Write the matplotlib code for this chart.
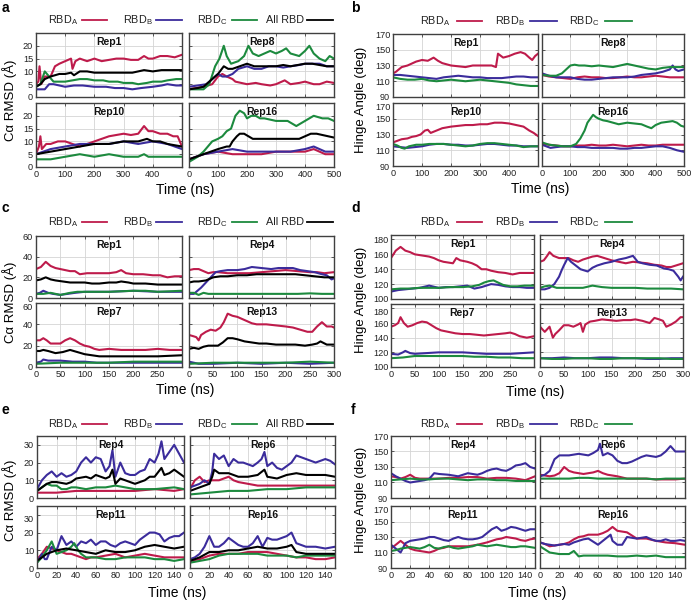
import matplotlib
matplotlib.use("Agg")
import matplotlib.pyplot as plt
from matplotlib.lines import Line2D

plt.rcParams['font.family'] = ['Liberation Sans', 'DejaVu Sans']
plt.rcParams['mathtext.default'] = 'regular'

W, H = 691, 601

RED = '#BE1B4B'
BLUE = '#3B2C9C'
GREEN = '#1C8A3E'
BLACK = '#000000'

# ---------------- panel a : C-alpha RMSD, 500 ns ----------------
a1_A = [(0,5),(8,6),(12,12),(18,5),(30,8),(50,8),(65,12),(80,13),(100,14),(120,15),(125,11),(135,14),(150,15),(175,14),(200,15),(225,14),(250,14.5),(275,15),(300,15),(325,14.5),(350,14.5),(370,16),(385,15),(400,15),(425,16),(450,16),(475,15.5),(500,16.5)]
a1_B = [(0,3),(15,3),(30,3),(45,5),(60,5),(80,4.5),(100,4),(130,4.5),(160,4.5),(200,4),(240,4),(270,3.5),(300,3.5),(330,3),(360,3.5),(400,4),(430,4.5),(450,5),(480,4.5),(500,4.5)]
a1_C = [(0,4),(15,5),(30,10),(45,8),(60,6),(80,6),(100,6),(125,6.5),(150,7),(175,7),(200,6.5),(230,6.5),(250,6),(280,6),(300,5.5),(330,5.5),(350,5),(380,5.5),(400,6),(430,6),(450,6.5),(480,7),(500,7)]
a1_All = [(0,4),(15,5),(30,7),(50,8),(80,9),(100,9),(120,9.5),(130,8.5),(150,10),(175,10),(200,9.5),(250,9.5),(300,9.5),(330,9.5),(350,10),(370,10.5),(400,10),(430,10.5),(460,10.5),(500,10.5)]

a8_A = [(0,3),(25,3.5),(50,4),(80,5),(100,8),(115,9),(130,8),(150,7),(160,6),(180,5.5),(200,5),(230,5.5),(250,5),(280,4.5),(300,5),(330,6.5),(350,5),(380,5.5),(400,6),(430,5),(450,5),(475,6),(500,5.5)]
a8_B = [(0,4),(30,4.5),(60,5),(80,7),(100,9),(115,8),(130,8),(150,9),(170,11),(200,12),(225,11),(250,11),(275,12),(300,12),(325,11.5),(350,12),(380,12.5),(400,13),(425,13),(450,13),(475,12),(500,12)]
a8_C = [(0,3),(25,3),(50,3),(70,5),(90,12),(105,15),(120,20),(130,16),(145,13),(170,14),(190,16),(205,20),(220,17),(240,16),(260,17),(280,18),(300,17),(320,18),(335,19),(350,17),(380,16),(400,18),(415,20),(430,17),(450,15),(470,14),(485,16),(500,15)]
a8_All = [(0,3),(30,3.5),(50,4),(80,7),(100,9),(120,12),(135,11),(150,11),(175,12),(200,13),(225,12),(250,12),(275,12),(300,12),(325,12.5),(350,12),(375,12.5),(400,13),(425,13),(450,12.5),(475,12),(500,12)]

a10_A = [(0,5),(10,8),(15,12),(20,7),(35,9),(50,9),(75,10),(100,10),(125,9),(150,8),(175,9),(200,10),(225,11),(250,12),(275,12.5),(300,13),(325,12.5),(350,13),(370,16),(385,14),(400,14),(425,13),(450,13),(470,12),(485,12),(500,8)]
a10_B = [(0,5),(25,6),(50,7),(75,7.5),(100,8),(125,8.5),(150,9),(175,9),(200,9),(225,9),(250,9),(275,9.5),(300,10),(325,9.5),(350,9),(375,9.5),(400,10),(425,9.5),(450,9),(475,8),(500,7)]
a10_C = [(0,3),(25,3),(50,3),(75,3.5),(100,4),(125,4.5),(150,5),(175,4.5),(200,4),(225,4.5),(250,5),(275,4.5),(300,4),(325,4),(350,4),(370,5),(385,4),(400,4),(425,4),(450,4),(475,4),(500,4)]
a10_All = [(0,5),(25,5.5),(50,6),(75,6.5),(100,7),(125,7.5),(150,8),(175,8.5),(200,9),(225,9),(250,9),(275,9.5),(300,10),(325,10),(350,10),(380,11),(400,10),(425,10),(450,9),(475,8.5),(500,8)]

a16_A = [(0,3),(25,4),(50,5),(75,5.5),(100,6),(125,5.5),(150,5),(175,5),(200,5),(225,5),(250,5),(275,5.5),(300,6),(325,6),(350,6),(375,6),(400,6),(430,7),(450,6),(470,5),(500,5)]
a16_B = [(0,3),(25,4),(50,5),(75,5.5),(100,6),(125,6.5),(150,7),(175,6.5),(200,6),(225,6),(250,6),(275,6),(300,6),(325,6),(350,6),(375,6.5),(400,7),(430,8),(450,7),(470,6),(500,6)]
a16_C = [(0,2),(15,3),(30,4),(50,6),(65,8),(80,10),(100,11),(115,12),(130,14),(145,15),(160,20),(175,22),(190,21),(200,19),(215,20),(230,20),(245,19),(260,19),(280,18.5),(300,18),(320,18),(340,18),(355,17),(370,16),(385,17),(400,18),(415,19),(430,20),(445,19.5),(460,19),(480,19),(500,18)]
a16_All = [(0,3),(25,4),(50,5),(75,6),(100,7),(130,8),(140,8),(150,10),(165,12),(175,13),(190,13),(205,12),(220,11),(240,11),(260,11),(280,11),(300,11),(325,11),(350,11),(380,11),(400,12),(420,13),(440,13),(460,12.5),(480,12),(500,11.5)]

# ---------------- panel b : hinge angle, 500 ns ----------------
b1_A = [(0,120),(10,122),(30,128),(50,130),(80,135),(100,137),(120,136),(140,140),(155,136),(170,133),(200,130),(225,129),(250,128),(275,130),(300,130),(320,130),(340,130),(355,128),(362,145),(380,140),(400,142),(420,145),(440,147),(455,145),(470,140),(480,137),(490,142),(500,145)]
b1_B = [(0,118),(25,118),(50,117),(75,116),(100,115),(125,114),(150,113),(175,115),(200,116),(225,117),(250,116),(275,115),(300,115),(325,114),(350,114),(375,114),(400,115),(425,116),(450,116),(475,115),(500,115)]
b1_C = [(0,115),(25,113),(50,112),(75,112),(100,113),(125,111),(150,110),(175,111),(200,112),(225,111),(250,110),(275,111),(300,112),(325,111),(350,110),(375,109),(400,108),(425,106),(450,105),(475,104),(500,104)]

b8_A = [(0,118),(25,116),(50,115),(75,114),(100,113),(125,115),(150,116),(175,115),(200,115),(225,114),(250,114),(275,115),(300,116),(325,115),(350,115),(375,116),(400,117),(425,116),(450,115),(475,115),(500,115)]
b8_B = [(0,120),(25,117),(50,115),(75,115),(100,115),(125,113),(150,112),(175,112),(200,113),(225,114),(250,115),(275,115),(300,115),(325,116),(350,118),(375,119),(400,120),(425,122),(450,125),(460,130),(470,125),(480,123),(500,125)]
b8_C = [(0,118),(25,117),(50,117),(70,120),(85,125),(100,130),(115,131),(130,130),(150,130),(175,129),(200,130),(225,129),(250,128),(275,130),(300,132),(325,130),(350,128),(375,126),(400,125),(425,127),(450,128),(475,128),(500,128)]

b10_A = [(0,120),(15,122),(30,124),(50,125),(65,127),(80,128),(95,130),(110,135),(120,136),(130,132),(150,135),(170,138),(185,139),(200,140),(225,141),(250,142),(275,142),(300,143),(325,143),(350,145),(375,145),(400,144),(425,142),(450,140),(470,135),(485,132),(500,128)]
b10_B = [(0,115),(25,114),(50,113),(75,114),(100,115),(125,117),(150,118),(175,118),(200,117),(225,117),(250,116),(275,116),(300,117),(325,118),(350,118),(375,117),(400,116),(425,116),(450,115),(475,115),(500,115)]
b10_C = [(0,118),(15,116),(30,113),(40,112),(55,115),(80,117),(100,117),(125,118),(150,118),(175,118),(200,117),(225,116),(250,115),(275,116),(300,118),(325,119),(350,119),(375,118),(400,117),(425,116),(450,114),(475,115),(500,115)]

b16_A = [(0,118),(25,117),(50,116),(75,115),(100,115),(125,116),(150,116),(175,117),(200,116),(225,116),(250,117),(275,116),(300,115),(325,116),(350,117),(375,116),(400,116),(425,117),(450,117),(475,117),(500,117)]
b16_B = [(0,117),(15,115),(30,113),(50,114),(75,115),(100,115),(125,114),(150,114),(175,113),(200,113),(225,113),(250,113),(275,112),(300,112),(325,113),(350,113),(375,114),(400,115),(425,115),(450,113),(475,110),(500,108)]
b16_C = [(0,120),(25,117),(50,116),(75,115),(100,115),(120,118),(135,125),(150,135),(160,145),(170,150),(180,155),(190,152),(200,150),(215,148),(230,147),(250,145),(270,143),(285,144),(300,145),(325,144),(350,143),(370,140),(385,138),(400,142),(420,145),(440,146),(460,147),(475,145),(490,141),(500,140)]

# ---------------- panel c : C-alpha RMSD, 300 ns ----------------
c1_A = [(0,28),(10,30),(20,35),(30,31),(40,29),(50,28),(60,27),(70,26),(80,26),(90,23),(105,24),(120,24),(135,24),(150,24),(165,25),(175,27),(185,24),(200,23),(220,23),(240,22),(255,22),(270,20),(285,21),(300,21)]
c1_B = [(0,4),(8,5),(15,7),(25,5),(35,4),(50,3),(65,4),(80,5),(100,6),(125,6),(150,6),(175,6.5),(200,7),(225,6.5),(250,6),(275,6),(300,6)]
c1_C = [(0,4),(15,4),(30,5),(40,4),(50,3),(60,4),(70,5),(85,6),(100,6),(125,6),(150,6),(175,6.5),(200,7),(225,7),(250,6),(275,6.5),(300,7)]
c1_All = [(0,17),(10,18),(20,20),(30,18),(40,17),(55,16),(70,15),(85,15),(100,15),(115,14),(130,14),(150,15),(165,15),(175,16),(190,15),(200,14),(225,14),(250,13),(275,13),(300,13)]

c4_A = [(0,27),(10,28),(20,28),(30,26),(40,24),(50,25),(60,25),(80,24),(100,24),(125,24),(150,25),(175,26),(200,27),(225,26),(250,25),(265,25),(280,24),(300,25)]
c4_B = [(0,4),(10,4),(15,6),(25,10),(35,15),(45,20),(55,25),(65,26),(80,27),(100,27),(115,28),(130,30),(150,29),(170,28),(185,29),(200,29),(215,29),(230,27),(245,26),(260,25),(275,23),(285,22),(295,18),(300,19)]
c4_C = [(0,5),(10,5),(20,3),(30,5),(40,4),(50,4),(75,4),(100,4),(125,4),(150,4),(175,4),(200,4),(225,4),(250,4.5),(275,4),(300,4)]
c4_All = [(0,15),(10,16),(20,16),(35,17),(45,19),(50,20),(65,21),(80,21),(100,22),(120,22),(140,23),(160,23),(180,23),(200,23),(220,23),(240,22),(260,21),(280,20),(300,20)]

c7_A = [(0,25),(8,25),(15,27),(22,25),(30,22),(40,22),(50,22),(60,25),(70,27),(80,25),(90,22),(100,20),(110,19),(120,17),(130,16),(150,17),(175,16),(200,16),(225,16),(250,17),(275,16),(300,16)]
c7_B = [(0,4),(10,5),(15,7),(25,6),(50,6),(75,5),(100,5),(125,4),(150,4),(175,4),(200,4),(225,4),(250,4),(275,4),(300,4)]
c7_C = [(0,3),(25,3.5),(50,4),(75,4),(100,4),(125,4),(150,4),(175,4.5),(200,5),(225,5),(250,5),(275,5),(300,5)]
c7_All = [(0,15),(8,15),(15,16),(25,15),(40,13),(55,14),(70,16),(85,14),(100,12),(115,11),(130,10),(150,10),(175,10),(200,10),(225,10),(250,10),(275,10.5),(300,11)]

c13_A = [(0,30),(8,29),(15,28),(20,25),(25,30),(35,33),(45,35),(55,34),(65,37),(72,42),(80,50),(90,48),(100,47),(110,45),(120,43),(130,41),(140,40),(160,40),(180,39),(200,38),(215,37),(230,35),(245,33),(255,33),(265,38),(275,42),(285,38),(295,38),(300,37)]
c13_B = [(0,5),(10,4),(20,3),(35,3),(50,3),(75,3.5),(100,4),(125,3.5),(150,3),(175,3.5),(200,4),(225,3.5),(250,3),(275,3.5),(300,4)]
c13_C = [(0,3),(25,3.5),(50,4),(75,4),(100,4),(125,4),(150,4),(175,4),(200,4),(225,4.5),(250,5),(275,4.5),(300,4)]
c13_All = [(0,17),(10,18),(20,17),(30,19),(40,20),(50,20),(60,20),(70,23),(80,27),(90,27),(100,26),(115,24),(130,23),(145,22),(160,22),(180,21),(200,21),(220,21),(240,20),(255,21),(265,22),(272,24),(285,21),(300,21)]

# ---------------- panel d : hinge angle, 300 ns ----------------
d1_A = [(0,155),(5,160),(10,165),(20,170),(30,165),(40,163),(50,160),(60,159),(70,158),(80,157),(90,155),(100,152),(110,150),(120,149),(130,148),(137,155),(145,152),(160,150),(170,148),(180,145),(190,140),(200,140),(210,138),(225,136),(240,135),(255,133),(270,135),(285,135),(300,135)]
d1_B = [(0,110),(15,112),(30,113),(45,114),(60,115),(80,118),(100,115),(115,116),(130,116),(145,117),(160,118),(175,114),(190,116),(200,118),(210,120),(225,119),(240,117),(255,116),(270,116),(285,115),(300,115)]
d1_C = [(0,113),(20,114),(40,114),(60,115),(80,115),(100,115),(125,116),(150,116),(170,117),(185,119),(195,122),(205,124),(215,125),(225,122),(235,119),(250,117),(265,117),(280,118),(300,118)]

d4_A = [(0,150),(8,152),(15,158),(20,163),(28,158),(40,155),(50,155),(60,155),(70,152),(80,150),(90,153),(100,155),(110,157),(120,158),(135,155),(150,152),(165,150),(180,148),(195,150),(210,149),(225,148),(240,146),(255,145),(265,143),(275,143),(285,145),(300,148)]
d4_B = [(0,113),(10,113),(20,115),(30,120),(40,130),(45,138),(50,145),(58,155),(65,150),(75,145),(85,140),(95,138),(100,137),(110,142),(120,145),(135,148),(150,150),(165,153),(180,155),(195,158),(205,150),(215,148),(230,146),(245,145),(260,141),(270,140),(280,138),(290,130),(295,125),(300,130)]
d4_C = [(0,115),(10,117),(20,118),(35,115),(50,115),(70,115),(90,115),(110,118),(130,116),(150,115),(175,115),(200,115),(225,114),(250,114),(275,114),(300,113)]

d7_A = [(0,155),(8,157),(15,160),(20,168),(27,160),(35,155),(45,157),(55,160),(65,162),(75,161),(85,157),(95,153),(105,150),(120,148),(135,146),(150,145),(165,145),(180,144),(195,143),(210,144),(225,145),(240,146),(250,147),(260,145),(270,142),(285,140),(300,142)]
d7_B = [(0,118),(15,117),(25,120),(30,122),(40,119),(50,118),(75,119),(100,120),(125,120),(150,120),(175,119),(200,118),(225,118),(250,118),(275,119),(300,120)]
d7_C = [(0,112),(25,113),(50,115),(75,115),(100,115),(125,115),(150,115),(175,114),(200,114),(225,113),(250,113),(275,112),(300,112)]

d13_A = [(0,155),(10,148),(20,155),(27,140),(32,145),(40,150),(50,157),(60,157),(70,155),(80,158),(85,160),(90,148),(95,158),(105,162),(115,163),(130,165),(145,164),(160,163),(175,164),(190,164),(200,165),(215,163),(230,160),(240,167),(250,165),(258,163),(265,155),(275,158),(285,162),(295,168),(300,168)]
d13_B = [(0,112),(25,112),(50,113),(75,112),(100,112),(125,113),(150,113),(175,112),(200,112),(225,111),(250,111),(275,112),(300,112)]
d13_C = [(0,112),(25,111),(50,111),(75,112),(100,112),(125,111),(150,111),(175,112),(200,112),(225,112),(250,112),(275,111),(300,111)]

# ---------------- panel e : C-alpha RMSD, 150 ns ----------------
e4_A = [(0,3),(10,3),(20,3),(30,3.5),(40,4),(50,4),(60,4),(70,4),(80,4),(90,4),(100,4),(110,4.5),(120,5),(130,4.5),(140,4),(150,5)]
e4_B = [(0,5),(5,10),(10,13),(15,15),(20,12),(25,14),(30,12),(35,13),(40,15),(45,20),(50,23),(55,20),(60,23),(65,22),(70,15),(74,18),(77,27),(80,12),(85,20),(90,14),(95,13),(100,13),(105,15),(110,16),(115,22),(120,20),(124,25),(127,32),(130,22),(135,26),(140,30),(145,25),(150,20)]
e4_C = [(0,4),(5,6),(10,8),(15,7),(20,7),(25,5),(30,5),(35,6),(40,6),(50,5),(60,6),(70,6),(80,7),(90,6),(100,5),(110,5),(120,5),(130,5.5),(140,6),(150,5)]
e4_All = [(0,4),(5,6),(10,8),(15,9),(20,9),(30,8),(35,9),(40,11),(50,12),(55,11),(60,13),(65,12),(70,11),(74,12),(77,16),(80,8),(85,11),(90,10),(100,8),(110,10),(115,12),(120,12),(127,17),(130,13),(135,14),(140,16),(145,14),(150,12)]

e6_A = [(0,5),(5,10),(10,12),(15,9),(20,10),(25,10),(30,10),(35,11),(40,12),(45,10),(50,9),(60,8),(70,7),(80,7),(90,7),(100,7),(110,7),(120,7),(130,7),(140,7),(150,7)]
e6_B = [(0,6),(5,7),(10,8),(15,10),(20,8),(23,15),(25,25),(30,22),(35,24),(40,18),(45,22),(50,20),(55,20),(60,19),(65,18),(70,20),(74,22),(77,26),(80,18),(85,20),(90,17),(95,16),(100,18),(105,20),(110,24),(115,23),(120,22),(125,21),(130,20),(135,21),(140,22),(145,21),(150,19)]
e6_C = [(0,2),(10,2.5),(20,3),(30,3.5),(40,4),(50,4),(60,4),(70,4.5),(80,5),(90,5),(100,5),(110,5.5),(120,6),(130,6),(140,6),(150,6)]
e6_All = [(0,4),(10,6),(20,8),(23,12),(25,16),(30,14),(40,14),(50,12),(60,12),(70,13),(77,16),(80,12),(90,11),(100,13),(110,14),(120,13),(130,13),(140,13),(150,12)]

e11_A = [(0,5),(5,8),(10,12),(15,11),(20,10),(25,9),(30,8),(35,8),(40,7),(45,6),(50,5),(55,6),(60,6),(70,7),(80,8),(85,7),(90,6),(100,7),(110,8),(120,7),(130,6),(140,6),(150,6)]
e11_B = [(0,3),(3,6),(5,8),(8,5),(10,5),(15,12),(20,10),(25,18),(30,13),(35,15),(40,12),(45,15),(50,14),(55,16),(60,13),(65,15),(70,15),(75,13),(80,12),(85,14),(90,15),(95,14),(100,13),(105,16),(110,18),(115,20),(120,20),(125,19),(130,15),(135,17),(140,18),(145,18),(150,20)]
e11_C = [(0,3),(5,6),(10,10),(15,15),(20,8),(25,9),(30,10),(35,12),(38,14),(42,10),(45,8),(50,6),(60,6),(70,5),(80,5),(90,6),(100,6),(110,6),(120,5),(130,5),(140,4),(150,5)]
e11_All = [(0,4),(5,6),(10,8),(15,9),(20,10),(30,11),(40,10),(50,9),(60,8),(70,10),(80,9),(90,9),(100,10),(110,12),(120,13),(130,12),(140,11),(150,12)]

e16_A = [(0,4),(10,5),(20,7),(30,8),(40,8),(50,8),(60,9),(70,9),(80,9),(90,8),(100,7),(110,6),(120,6),(130,5),(140,5),(150,6)]
e16_B = [(0,5),(5,6),(10,8),(15,12),(20,18),(25,12),(30,12),(35,14),(40,17),(45,15),(50,13),(55,12),(60,12),(65,14),(70,18),(75,12),(80,17),(85,16),(90,16),(95,17),(100,18),(105,20),(110,14),(115,13),(120,12),(130,12),(140,11),(150,12)]
e16_C = [(0,3),(10,4),(20,5),(30,7),(40,8),(50,8),(60,8),(70,8),(80,7),(90,7),(100,7),(110,6),(120,7),(130,7),(140,7),(150,7)]
e16_All = [(0,4),(10,6),(20,9),(30,9),(40,10),(50,10),(60,11),(70,12),(80,11),(90,11),(100,12),(105,13),(110,9),(120,8),(130,8),(140,8),(150,8)]

# ---------------- panel f : hinge angle, 150 ns ----------------
f4_A = [(0,118),(5,117),(10,115),(15,117),(20,120),(25,116),(30,115),(40,115),(50,115),(60,116),(70,116),(80,117),(90,117),(100,115),(110,116),(120,116),(130,115),(140,113),(150,118)]
f4_B = [(0,122),(5,118),(10,115),(15,112),(20,110),(25,111),(30,112),(35,113),(40,115),(45,122),(50,121),(60,120),(70,118),(80,122),(90,120),(95,122),(100,125),(105,127),(110,128),(115,126),(120,125),(125,128),(130,132),(135,133),(140,135),(145,130),(150,128)]
f4_C = [(0,113),(10,114),(20,115),(30,114),(40,114),(50,115),(60,115),(70,114),(80,113),(90,114),(100,114),(110,113),(120,113),(130,112),(140,112),(150,112)]

f6_A = [(0,120),(5,119),(10,118),(15,119),(20,122),(25,130),(30,125),(35,123),(40,122),(45,121),(50,122),(55,123),(60,125),(65,122),(70,120),(75,119),(80,118),(90,115),(100,115),(110,115),(120,114),(130,114),(140,114),(150,115)]
f6_B = [(0,118),(5,120),(10,125),(15,140),(20,145),(25,145),(30,145),(35,146),(40,147),(45,146),(50,145),(55,148),(60,152),(62,160),(65,145),(70,148),(75,145),(80,138),(85,135),(90,135),(95,137),(100,140),(105,143),(110,145),(115,144),(120,143),(125,145),(130,150),(135,157),(140,150),(145,150),(150,150)]
f6_C = [(0,115),(10,115),(20,115),(30,115),(40,116),(50,116),(60,115),(70,115),(80,115),(90,115),(100,115),(110,115),(120,114),(130,115),(140,115),(150,115)]

f11_A = [(0,115),(5,120),(10,125),(15,120),(20,115),(25,113),(30,112),(35,111),(40,110),(45,112),(50,115),(55,116),(60,118),(70,118),(80,118),(90,120),(100,123),(105,125),(110,127),(115,128),(120,130),(125,129),(130,128),(135,126),(140,125),(145,127),(150,128)]
f11_B = [(0,120),(5,115),(10,110),(15,122),(20,125),(25,126),(30,127),(35,128),(40,130),(45,130),(50,128),(55,126),(60,125),(65,128),(70,130),(75,128),(80,127),(85,127),(90,128),(95,130),(100,135),(105,140),(110,143),(115,138),(120,140),(125,143),(130,142),(135,140),(140,138),(145,140),(150,140)]
f11_C = [(0,112),(5,113),(10,115),(15,116),(20,117),(25,116),(30,115),(35,117),(40,120),(45,116),(50,115),(55,117),(60,118),(65,116),(70,115),(75,116),(80,117),(85,118),(90,120),(95,119),(100,118),(105,119),(110,120),(115,119),(120,118),(125,117),(130,117),(135,118),(140,118),(145,117),(150,116)]

f16_A = [(0,123),(5,121),(10,118),(15,119),(20,120),(25,121),(30,123),(35,127),(40,130),(45,131),(50,133),(55,133),(60,133),(65,135),(70,138),(75,143),(80,138),(85,137),(90,136),(95,132),(100,128),(105,128),(110,128),(120,125),(130,123),(140,122),(150,120)]
f16_B = [(0,123),(5,121),(10,120),(15,119),(20,120),(25,121),(30,120),(35,123),(40,125),(45,127),(50,128),(55,124),(60,120),(65,125),(70,130),(73,133),(75,125),(80,120),(85,120),(90,130),(95,129),(100,128),(105,129),(110,130),(115,127),(120,125),(125,125),(130,127),(135,125),(140,125),(145,126),(150,125)]
f16_C = [(0,118),(5,114),(10,110),(15,109),(20,108),(25,108),(30,108),(35,112),(40,105),(45,106),(50,106),(60,106),(70,106),(80,105),(90,105),(100,106),(110,105),(120,106),(130,104),(140,104),(150,104)]

# ---------------- layout ----------------
fig = plt.figure(figsize=(W / 100, H / 100), dpi=100)

TICK_FONT = ['Liberation Sans Narrow', 'Liberation Sans', 'DejaVu Sans']


def add_ax(l, t, r, b):
    return fig.add_axes([l / W, 1 - b / H, (r - l) / W, (b - t) / H])


def draw(ax, series, title, xlim, xticks, ylim, yticks, row, show_x, show_y):
    colors = [RED, BLUE, GREEN, BLACK]
    for s, c in zip(series, colors):
        ts = [p[0] for p in s]
        vs = [p[1] for p in s]
        ax.plot(ts, vs, color=c, lw=1.5, solid_joinstyle='round')
    ax.set_xlim(*xlim)
    ax.set_ylim(*ylim)
    ax.set_xticks(xticks)
    ax.set_yticks(yticks)
    ax.grid(True, color='#d4d4d4', lw=0.6)
    ax.set_axisbelow(True)
    for sp in ax.spines.values():
        sp.set_color('#404040')
        sp.set_linewidth(1.0)
    ax.tick_params(direction='in', length=2.5, width=0.6, labelsize=6.6, pad=2,
                   top=True, right=True, colors='#404040', labelcolor='#222222',
                   labelfontfamily=TICK_FONT)
    if not show_x:
        ax.set_xticklabels([])
    if not show_y:
        ax.set_yticklabels([])
    elif row == 1 and yticks[-1] >= ylim[1] - 0.5 * (yticks[1] - yticks[0]):
        ax.get_yticklabels()[-1].set_verticalalignment('top')
    ax.text(0.5, 0.94, title, transform=ax.transAxes, ha='center', va='top',
            fontsize=7.5, fontweight='bold', color='#111111')


def legend(y, items):
    for label, tx, x0, x1, c in items:
        fig.text(tx / W, 1 - y / H, label, ha='center', va='center', fontsize=7.8, color='#222222')
        fig.add_artist(Line2D([x0 / W, x1 / W], [1 - y / H, 1 - y / H], color=c, lw=1.3))


def panel(letter, lx, ly, boxes, data, titles, xlim, xt_left, xt_right, ylim, yticks,
          ylabel, ylx, yly, tlx, tly, leg_y, leg_items):
    fig.text(lx / W, 1 - ly / H, letter, fontsize=10, fontweight='bold', ha='left', va='center')
    for i, (box, ser, ttl) in enumerate(zip(boxes, data, titles)):
        ax = add_ax(*box)
        row, col = divmod(i, 2)
        draw(ax, ser, ttl, xlim, xt_left if col == 0 else xt_right, ylim, yticks, row,
             show_x=(row == 1), show_y=(col == 0))
    fig.text(ylx / W, 1 - yly / H, ylabel, rotation=90, ha='center', va='center', fontsize=9.5)
    fig.text(tlx / W, 1 - tly / H, 'Time (ns)', ha='center', va='center', fontsize=10)
    legend(leg_y, leg_items)


RA = r'RBD$_\mathregular{A}$'
RB = r'RBD$_\mathregular{B}$'
RC = r'RBD$_\mathregular{C}$'

leg_left = [(RA, 63, 82, 107, RED), (RB, 138, 156, 182, BLUE), (RC, 212, 232, 257, GREEN),
            ('All RBD', 285, 307, 333, BLACK)]
leg_right = [(RA, 435, 457, 482, RED), (RB, 510, 530, 557, BLUE), (RC, 584, 605, 632, GREEN)]

rmsd_label = 'Cα RMSD (Å)'
hinge_label = 'Hinge Angle (deg)'

# a
panel('a', 2, 8,
      [(36, 33, 182, 97), (189, 33, 334, 97), (36, 103, 182, 167), (189, 103, 334, 167)],
      [(a1_A, a1_B, a1_C, a1_All), (a8_A, a8_B, a8_C, a8_All),
       (a10_A, a10_B, a10_C, a10_All), (a16_A, a16_B, a16_C, a16_All)],
      ['Rep1', 'Rep8', 'Rep10', 'Rep16'], (0, 500), [0, 100, 200, 300, 400],
      [0, 100, 200, 300, 400, 500], (0, 25), [0, 5, 10, 15, 20],
      rmsd_label, 10, 100, 185, 190, 20, leg_left)

# b
panel('b', 351, 8,
      [(393, 34, 538, 97), (542, 34, 684, 97), (393, 103, 538, 166), (542, 103, 684, 166)],
      [(b1_A, b1_B, b1_C), (b8_A, b8_B, b8_C), (b10_A, b10_B, b10_C), (b16_A, b16_B, b16_C)],
      ['Rep1', 'Rep8', 'Rep10', 'Rep16'], (0, 500), [0, 100, 200, 300, 400],
      [0, 100, 200, 300, 400, 500], (90, 170), [90, 110, 130, 150, 170],
      hinge_label, 361, 100, 540, 189, 21, leg_right)

# c
panel('c', 2, 208,
      [(36, 236, 182, 298), (189, 236, 334, 298), (36, 303, 182, 367), (189, 303, 334, 367)],
      [(c1_A, c1_B, c1_C, c1_All), (c4_A, c4_B, c4_C, c4_All),
       (c7_A, c7_B, c7_C, c7_All), (c13_A, c13_B, c13_C, c13_All)],
      ['Rep1', 'Rep4', 'Rep7', 'Rep13'], (0, 300), [0, 50, 100, 150, 200, 250],
      [0, 50, 100, 150, 200, 250, 300], (0, 60), [0, 20, 40, 60],
      rmsd_label, 10, 302, 185, 390, 222, leg_left)

# d
panel('d', 351, 208,
      [(391, 235, 534, 299), (540, 235, 683, 299), (391, 304, 534, 367), (540, 304, 683, 367)],
      [(d1_A, d1_B, d1_C), (d4_A, d4_B, d4_C), (d7_A, d7_B, d7_C), (d13_A, d13_B, d13_C)],
      ['Rep1', 'Rep4', 'Rep7', 'Rep13'], (0, 300), [0, 50, 100, 150, 200, 250],
      [0, 50, 100, 150, 200, 250, 300], (100, 186), [100, 120, 140, 160, 180],
      hinge_label, 361, 300, 535, 392, 222, leg_right)

# e
panel('e', 2, 410,
      [(37, 436, 184, 498), (190, 436, 335, 498), (37, 506, 184, 568), (190, 506, 335, 568)],
      [(e4_A, e4_B, e4_C, e4_All), (e6_A, e6_B, e6_C, e6_All),
       (e11_A, e11_B, e11_C, e11_All), (e16_A, e16_B, e16_C, e16_All)],
      ['Rep4', 'Rep6', 'Rep11', 'Rep16'], (0, 150), list(range(0, 150, 20)),
      list(range(0, 150, 20)), (0, 35), [0, 10, 20, 30],
      rmsd_label, 10, 500, 177, 593, 424, leg_left)

# f
panel('f', 351, 410,
      [(391, 436, 535, 498), (540, 436, 685, 498), (391, 506, 535, 568), (540, 506, 685, 568)],
      [(f4_A, f4_B, f4_C), (f6_A, f6_B, f6_C), (f11_A, f11_B, f11_C), (f16_A, f16_B, f16_C)],
      ['Rep4', 'Rep6', 'Rep11', 'Rep16'], (0, 150), list(range(0, 150, 20)),
      list(range(0, 150, 20)), (90, 170), [90, 110, 130, 150, 170],
      hinge_label, 361, 500, 537, 593, 424, leg_right)

fig.savefig('out.png', dpi=100)
